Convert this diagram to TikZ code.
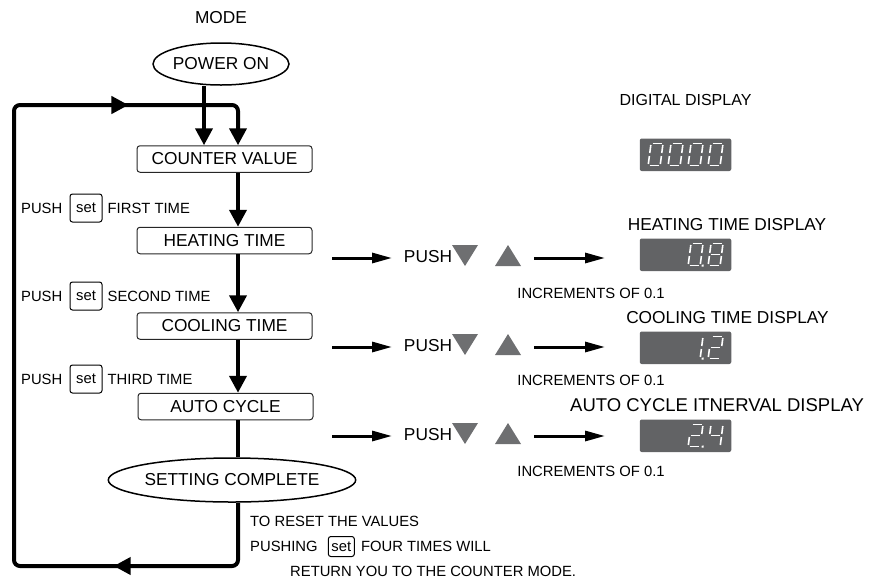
\documentclass[tikz,border=0pt]{standalone}
\usepackage{fontspec}
\setmainfont{Liberation Sans}
\usetikzlibrary{arrows.meta,positioning,shapes.geometric,decorations.markings}
\definecolor{dispgray}{RGB}{98,99,101}
\definecolor{trigray}{RGB}{110,111,113}
\newcommand{\bigtxt}{\fontsize{17.3}{20}\selectfont}
\newcommand{\smalltxt}{\fontsize{14.8}{17}\selectfont}
% one digit of the display: x, y of top left, then segments a b c d e f g
\newcommand{\sevenseg}[9]{%
  \begin{scope}[shift={(#1,#2)},xslant=0.13]
    \ifnum#3=1 \draw[seg] (1.5,0) -- (10.5,0);\fi
    \ifnum#4=1 \draw[seg] (12,1.5) -- (12,9.5);\fi
    \ifnum#5=1 \draw[seg] (12,12.5) -- (12,20.5);\fi
    \ifnum#6=1 \draw[seg] (1.5,22) -- (10.5,22);\fi
    \ifnum#7=1 \draw[seg] (0,12.5) -- (0,20.5);\fi
    \ifnum#8=1 \draw[seg] (0,1.5) -- (0,9.5);\fi
    \ifnum#9=1 \draw[seg] (1.5,11) -- (10.5,11);\fi
  \end{scope}}
\newcommand{\segdot}[2]{%
  \begin{scope}[shift={(#1,#2)},xslant=0.13]
    \fill[white] (13.5,21) rectangle (15.5,23);
  \end{scope}}

\begin{document}
\begin{tikzpicture}
[x=1pt,y=-1pt,
 ar/.style={-{Triangle[length=17pt,width=17pt]},line width=4pt},
 push/.style={-{Triangle[length=20pt,width=10pt]},line width=3pt},
 back/.style={-{Triangle[length=17pt,width=17pt]},line width=4pt,rounded corners=6pt,
   postaction=decorate,decoration={markings,
     mark=at position 185pt with {\arrow{Triangle[length=17pt,width=17pt]}},
     mark=at position 855pt with {\arrow{Triangle[length=17pt,width=17pt]}}}},
 no/.style={draw,ellipse,line width=1.5pt,inner sep=0pt,font=\bigtxt},
 box/.style={draw=black!85,rounded corners=3pt,line width=1pt,minimum width=175pt,
   minimum height=26.5pt,inner sep=0pt,font=\bigtxt},
 key/.style={draw,rounded corners=2.5pt,line width=1pt,minimum width=32pt,
   minimum height=28pt,inner sep=0pt,font=\smalltxt},
 disp/.style={fill=dispgray,rounded corners=2pt,minimum width=91.5pt,
   minimum height=32.5pt,inner sep=0pt},
 txt/.style={font=\bigtxt,inner sep=0pt},
 lbl/.style={font=\smalltxt,inner sep=0pt},
 tri/.style={fill=trigray},
 seg/.style={white,line width=1.6pt}]
\useasboundingbox (0,0) rectangle (885,579);

\node [txt] at (221,18) (mode) {MODE};
\node [no,minimum width=119pt,minimum height=42pt] at (221,64) (pwr) {POWER ON};
\node [box] at (224.5,159) (cnt) {COUNTER VALUE};
\node [box] at (224.5,240.5) (heat) {HEATING TIME};
\node [box] at (224.5,326) (cool) {COOLING TIME};
\node [box] at (225.5,406.5) (auto) {AUTO CYCLE};
\node [no,minimum width=206pt,minimum height=44pt] at (232,480) (done) {SETTING COMPLETE};

\coordinate (pin) at (204,0);
\coordinate (flow) at (238,0);
\coordinate (bl) at (14,566);
\coordinate (tl) at (14,105);

\draw [ar] (pwr.south -| pin) -- (cnt.north -| pin);
\draw [ar] (cnt.south -| flow) -- (heat.north -| flow);
\draw [ar] (heat.south -| flow) -- (cool.north -| flow);
\draw [ar] (cool.south -| flow) -- (auto.north -| flow);
\draw [line width=4pt] (auto.south -| flow) -- (done.north -| flow);
\draw [back] (done.south -| flow) -- (flow |- bl) -- (bl) -- (tl) -- (flow |- tl) -- (cnt.north -| flow);

% push set labels
\node [key] at (86,208) (k1) {set};
\node [lbl,left=7pt of k1] (p1) {PUSH};
\node [lbl,right=5pt of k1] (t1) {FIRST TIME};
\node [key] at (86,296) (k2) {set};
\node [lbl,left=7pt of k2] (p2) {PUSH};
\node [lbl,right=5pt of k2] (t2) {SECOND TIME};
\node [key] at (86,379) (k3) {set};
\node [lbl,left=7pt of k3] (p3) {PUSH};
\node [lbl,right=5pt of k3] (t3) {THIRD TIME};

\node [lbl,anchor=west] at (250,521) (r1) {TO RESET THE VALUES};
\node [lbl,anchor=west] at (250,546.5) (r2) {PUSHING};
\node [key,minimum width=26pt,minimum height=20pt,right=10pt of r2] (k4) {set};
\node [lbl,right=6pt of k4] (r3) {FOUR TIMES WILL};
\node [lbl,anchor=west] at (290,571) (r4) {RETURN YOU TO THE COUNTER MODE.};

% heating row
\coordinate (h0) at (332,258);
\coordinate (h1) at (392,258);
\coordinate (h2) at (534,258);
\coordinate (h3) at (605,258);
\node [txt] at (428,257) (pushh) {PUSH};
\draw [push] (h0) -- (h1);
\fill [tri] (452,245) -- (478,245) -- (465,266) -- cycle;
\fill [tri] (495,266) -- (521,266) -- (508,245) -- cycle;
\draw [push] (h2) -- (h3);
\node [lbl] at (591,293) (inch) {INCREMENTS OF 0.1};

% cooling row
\coordinate (c0) at (332,347);
\coordinate (c1) at (392,347);
\coordinate (c2) at (534,347);
\coordinate (c3) at (605,347);
\node [txt] at (428,346) (pushc) {PUSH};
\draw [push] (c0) -- (c1);
\fill [tri] (452,334) -- (478,334) -- (465,355) -- cycle;
\fill [tri] (495,355) -- (521,355) -- (508,334) -- cycle;
\draw [push] (c2) -- (c3);
\node [lbl] at (591,380) (incc) {INCREMENTS OF 0.1};

% auto cycle row
\coordinate (a0) at (332,436);
\coordinate (a1) at (392,436);
\coordinate (a2) at (534,436);
\coordinate (a3) at (605,436);
\node [txt] at (428,435) (pusha) {PUSH};
\draw [push] (a0) -- (a1);
\fill [tri] (452,423) -- (478,423) -- (465,444) -- cycle;
\fill [tri] (495,444) -- (521,444) -- (508,423) -- cycle;
\draw [push] (a2) -- (a3);
\node [lbl] at (591,471) (inca) {INCREMENTS OF 0.1};

% displays
\node [txt,font=\fontsize{16}{19}\selectfont] at (685.5,100) (digl) {DIGITAL DISPLAY};
\node [disp] at (685.5,154.75) (dig) {};
\sevenseg{651}{143.5}{1}{1}{1}{1}{1}{1}{0}
\sevenseg{671}{143.5}{1}{1}{1}{1}{1}{1}{0}
\sevenseg{691}{143.5}{1}{1}{1}{1}{1}{1}{0}
\sevenseg{711}{143.5}{1}{1}{1}{1}{1}{1}{0}

\node [txt] at (727,225) (heatl) {HEATING TIME DISPLAY};
\node [disp] at (685.5,254.75) (heatd) {};
\sevenseg{691}{243.5}{1}{1}{1}{1}{1}{1}{0}
\segdot{691}{243.5}
\sevenseg{711}{243.5}{1}{1}{1}{1}{1}{1}{1}

\node [txt] at (727.5,318) (cooll) {COOLING TIME DISPLAY};
\node [disp] at (685.5,347.75) (coold) {};
\sevenseg{691}{336.5}{0}{1}{1}{0}{0}{0}{0}
\segdot{691}{336.5}
\sevenseg{711}{336.5}{1}{1}{0}{1}{1}{0}{1}

\node [txt,font=\fontsize{18.5}{21}\selectfont] at (717,405) (autol) {AUTO CYCLE ITNERVAL DISPLAY};
\node [disp] at (685.5,435.75) (autod) {};
\sevenseg{691}{424.5}{1}{1}{0}{1}{1}{0}{1}
\segdot{691}{424.5}
\sevenseg{711}{424.5}{0}{1}{1}{0}{0}{1}{1}
\end{tikzpicture}
\end{document}
